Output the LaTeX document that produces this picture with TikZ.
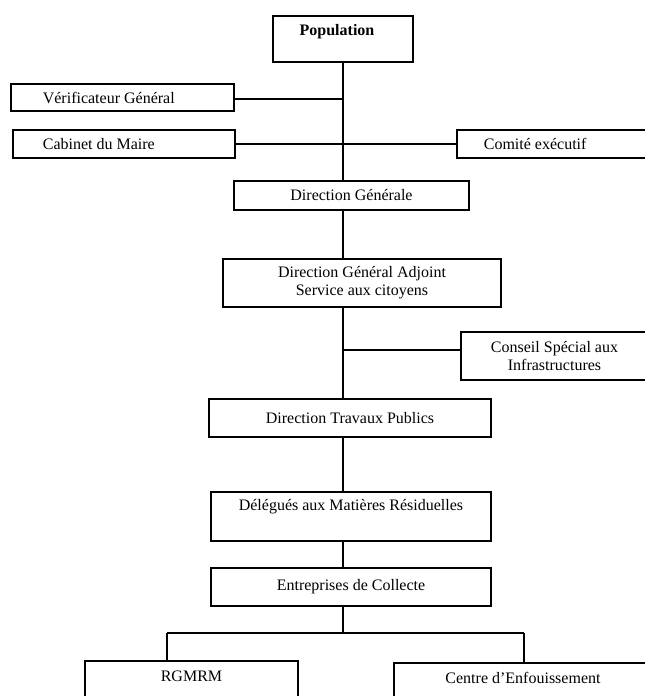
\documentclass[tikz,border=0pt]{standalone}
\usepackage{fontspec}
\setmainfont{Liberation Serif}
\begin{document}
\begin{tikzpicture}[x=1pt,y=-1pt,
  box/.style={draw, line width=1.4pt, rectangle, inner sep=0pt, align=center},
  conn/.style={line width=1.4pt},
  font=\fontsize{16}{18}\selectfont]
\useasboundingbox (0,0) rectangle (645,696);
\clip (0,0) rectangle (645,696);
\node[box, minimum width=140pt, minimum height=46pt,
  label={[font=\fontsize{16}{18}\selectfont\bfseries, anchor=center, yshift=-16pt, xshift=-6pt]north:Population}] (pop) at (343,39) {};
\node[box, minimum width=223pt, minimum height=27pt,
  label={[anchor=west, xshift=29pt]west:Vérificateur Général}] (ver) at (122.5,97.5) {};
\node[box, minimum width=222pt, minimum height=28pt,
  label={[anchor=west, xshift=27pt]west:Cabinet du Maire}] (cab) at (124,144) {};
\node[box, minimum width=191pt, minimum height=28pt,
  label={[anchor=west, xshift=24pt]west:Comité exécutif}] (com) at (552.5,144) {};
\node[box, minimum width=235pt, minimum height=29pt] (dg) at (351.5,195.5) {Direction Générale};
\node[box, minimum width=278pt, minimum height=48pt] (dga) at (362,283) {Direction Général Adjoint\\Service aux citoyens};
\node[box, minimum width=187pt, minimum height=48pt] (csi) at (554.5,356) {Conseil Spécial aux\\Infrastructures};
\node[box, minimum width=282pt, minimum height=38pt] (dtp) at (350,418) {Direction Travaux Publics};
\node[box, minimum width=280pt, minimum height=49pt,
  label={[anchor=center, yshift=-15pt]north:Délégués aux Matières Résiduelles}] (dmr) at (351,516.5) {};
\node[box, minimum width=280pt, minimum height=38pt] (ec) at (351,587) {Entreprises de Collecte};
\node[box, minimum width=213pt, minimum height=60pt,
  label={[anchor=center, yshift=-16pt]north:RGMRM}] (rg) at (191.5,691) {};
\node[box, minimum width=254pt, minimum height=60pt,
  label={[anchor=center, yshift=-16pt, xshift=2pt]north:Centre d’Enfouissement}] (ce) at (521,693) {};
\coordinate (t2) at (343,350);
\coordinate (split) at (343,633);
\coordinate (bl) at (167,633);
\coordinate (br) at (524,633);
\coordinate (v1) at ([yshift=-1.5pt]ver.east);
\draw[conn] (pop.south) -- (pop.south |- dg.north);
\draw[conn] (v1) -- (v1 -| pop.south);
\draw[conn] (cab.east) -- (com.west);
\draw[conn] (dg.south -| pop.south) -- (dga.north -| pop.south);
\draw[conn] (dga.south -| pop.south) -- (dtp.north -| pop.south);
\draw[conn] (t2) -- (t2 -| csi.west);
\draw[conn] (dtp.south -| pop.south) -- (dmr.north -| pop.south);
\draw[conn] (dmr.south -| pop.south) -- (ec.north -| pop.south);
\draw[conn] (ec.south -| pop.south) -- (split);
\draw[conn] (bl) -- (br);
\draw[conn] (bl) -- (bl |- rg.north);
\draw[conn] (br) -- (br |- ce.north);
\end{tikzpicture}
\end{document}
